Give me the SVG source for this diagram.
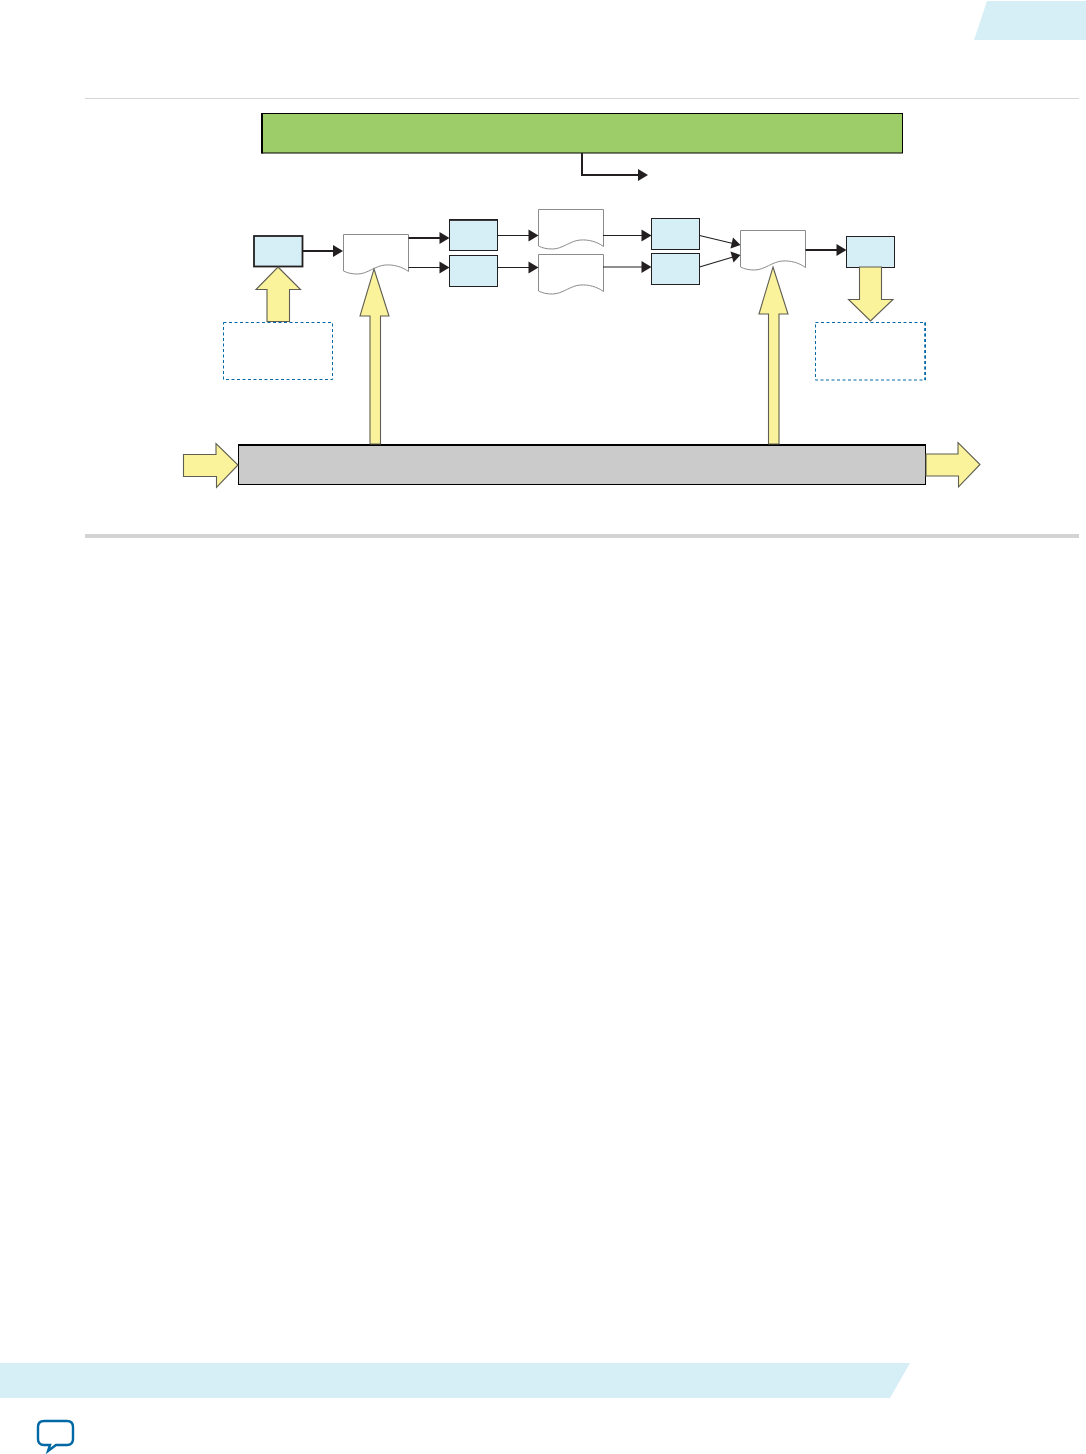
<svg xmlns="http://www.w3.org/2000/svg" width="1086" height="1454" viewBox="0 0 1086 1454">
<style>
.box{fill:#d6eef6;stroke:#231f20;stroke-width:1}
.thick{stroke-width:1.800}
.doc{fill:#fff;stroke:#8c8c8c;stroke-width:1}
.dash{fill:#fff;stroke:#0068a5;stroke-width:1;stroke-dasharray:3 2.500}
.big{fill:#fbf39b;stroke:#5f5e52;stroke-width:1.100}
.ln{fill:none;stroke:#231f20;stroke-width:1.200}
.tk{stroke-width:2}
.ah{fill:#231f20;stroke:none}
</style>
<defs>
<path id="wave" d="M0 0H65V37C58 32 50 30 42 30.500C32 31 24 39.500 14 39.500C8 39.500 4 38.500 0 36.500Z"/>
</defs>
<g id="page">
<path d="M987 1H1086V40H974Z" fill="#d6eef6"/>
<rect x="85" y="98" width="994" height="1" fill="#d4d4d4"/>
<rect x="85" y="534" width="994" height="4" fill="#d4d4d4"/>
<path d="M0 1363H910L890 1398H0Z" fill="#d6eef6"/>
<path d="M44 1421H67Q73 1421 73 1427V1439Q73 1445 67 1445H56L48 1451L50 1445H44Q38 1445 38 1439V1427Q38 1421 44 1421Z" fill="#fff" stroke="#0068a5" stroke-width="2.400"/>
</g>
<g id="green-bar"><rect x="262" y="113.500" width="640.500" height="39.500" fill="#9ccd69" stroke="#000" stroke-width="1"/><path d="M262 113V153.500" stroke="#000" stroke-width="2"/></g>
<g id="gray-bar"><rect x="238.500" y="445" width="687" height="39.500" fill="#cbcbcb" stroke="#000" stroke-width="1"/><path d="M238 445H926" stroke="#000" stroke-width="2"/></g>
<g id="dash-left"><rect class="dash" x="223.500" y="322.500" width="109" height="57"/></g>
<g id="dash-right"><rect class="dash" x="815.500" y="322.500" width="110" height="57.500"/><path d="M925 322.500V380" stroke="#0068a5" stroke-width="1.600" stroke-dasharray="3 2.500" fill="none"/></g>
<g id="box-1"><rect class="box thick" x="254" y="236" width="48.500" height="30.500"/></g>
<g id="box-2"><rect class="box" x="449.500" y="220" width="48" height="30.500"/><path d="M449 219.800H498" stroke="#231f20" stroke-width="1.800"/></g>
<g id="box-3"><rect class="box" x="449.500" y="255.500" width="48" height="31"/></g>
<g id="box-4"><rect class="box" x="651.500" y="218.500" width="48" height="31"/></g>
<g id="box-5"><rect class="box" x="651.500" y="253.500" width="48" height="31"/></g>
<g id="box-6"><rect class="box" x="846.500" y="236.500" width="48" height="31"/></g>
<g id="doc-1"><use href="#wave" class="doc" x="343.500" y="234.500"/></g>
<g id="doc-2"><use href="#wave" class="doc" x="538.500" y="209.500"/></g>
<g id="doc-3"><use href="#wave" class="doc" x="538.500" y="254.500"/></g>
<g id="doc-4"><use href="#wave" class="doc" x="740.500" y="230.500"/></g>
<g id="connectors">
<path class="ln tk" d="M582 153V175H640"/><path class="ah" d="M638 169L648 175L638 181Z"/>
<path class="ln tk" d="M302.500 251H334"/><path class="ah" d="M333 245L343 251L333 257Z"/>
<path class="ln tk" d="M408.500 238H441"/><path class="ah" d="M439.500 232L449.500 238L439.500 244Z"/>
<path class="ln" d="M408.500 267.500H441"/><path class="ah" d="M439.500 261.500L449.500 267.500L439.500 273.500Z"/>
<path class="ln" d="M497.500 235.500H530"/><path class="ah" d="M528.500 229.500L538.500 235.500L528.500 241.500Z"/>
<path class="ln" d="M497.500 267.500H530"/><path class="ah" d="M528.500 261.500L538.500 267.500L528.500 273.500Z"/>
<path class="ln" d="M603 235.500H643"/><path class="ah" d="M641.500 229.500L651.500 235.500L641.500 241.500Z"/>
<path class="ln" d="M603 267H643"/><path class="ah" d="M641.500 261L651.500 267L641.500 273Z"/>
<path class="ln" d="M699.500 235.500L733 243.500"/><path class="ah" d="M733 237.500L740.500 245L730.500 248.500Z"/>
<path class="ln" d="M699.500 267L733 257"/><path class="ah" d="M730.500 251.500L740.500 255L733.500 262.500Z"/>
<path class="ln tk" d="M805.500 250H838"/><path class="ah" d="M836.500 244L846.500 250L836.500 256Z"/>
</g>
<g id="arrow-up-1"><path class="big" d="M278 267L300.500 289.500H289.500V321.500H267V289.500H256Z"/></g>
<g id="arrow-up-2"><path class="big" d="M374 269L389 316H380.500V444H370V316H360Z"/></g>
<g id="arrow-up-3"><path class="big" d="M773 267L788 314H779V444H768.500V314H759Z"/></g>
<g id="arrow-down"><path class="big" d="M859.500 267H881.500V299.500H893L870.500 321L848.500 299.500H859.500Z"/></g>
<g id="arrow-in"><path class="big" d="M183.500 454.500H216V443.500L238 465L216.500 487.500V476.500H183.500Z"/></g>
<g id="arrow-out"><path class="big" d="M926 454H958V442.500L980 464.500L958.500 487V476H926Z"/></g>
</svg>
